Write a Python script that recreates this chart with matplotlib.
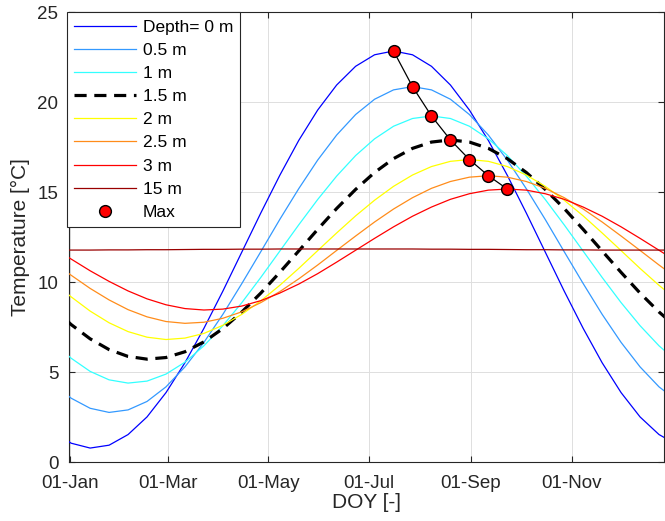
import matplotlib
import numpy as np

matplotlib.use("Agg")
import matplotlib.pyplot as plt

plt.rcParams["font.family"] = ["Liberation Sans", "DejaVu Sans"]

# day of year sampled every 11.5 days (first/last points lie just outside the axis)
doy = [-10, 1.5, 13, 24.5, 36, 47.5, 59, 70.5, 82, 93.5, 105, 116.5, 128, 139.5,
       151, 162.5, 174, 185.5, 197, 208.5, 220, 231.5, 243, 254.5, 266, 277.5,
       289, 300.5, 312, 323.5, 335, 346.5, 358, 369.5]

# soil temperature [degC] per depth
t_0m = [1.76, 1.06, 0.79, 0.95, 1.54, 2.52, 3.87, 5.53, 7.44, 9.51, 11.68, 13.85,
        15.94, 17.88, 19.57, 20.96, 22.00, 22.64, 22.85, 22.64, 22.00, 20.96, 19.57,
        17.88, 15.94, 13.85, 11.68, 9.51, 7.44, 5.53, 3.87, 2.52, 1.54, 0.95]
t_05m = [4.45, 3.56, 3.00, 2.77, 2.91, 3.38, 4.19, 5.30, 6.66, 8.22, 9.93, 11.70,
         13.49, 15.20, 16.79, 18.18, 19.32, 20.17, 20.69, 20.87, 20.69, 20.17, 19.32,
         18.18, 16.79, 15.20, 13.49, 11.70, 9.93, 8.22, 6.66, 5.30, 4.19, 3.38]
t_1m = [6.74, 5.78, 5.05, 4.58, 4.40, 4.51, 4.90, 5.56, 6.47, 7.59, 8.87, 10.27,
        11.73, 13.19, 14.60, 15.90, 17.04, 17.97, 18.67, 19.10, 19.24, 19.10, 18.67,
        17.97, 17.04, 15.90, 14.60, 13.19, 11.73, 10.27, 8.87, 7.59, 6.47, 5.56]
t_15m = [8.61, 7.65, 6.86, 6.26, 5.88, 5.73, 5.82, 6.14, 6.69, 7.43, 8.35, 9.40,
         10.55, 11.74, 12.94, 14.10, 15.16, 16.10, 16.87, 17.44, 17.79, 17.91, 17.79,
         17.44, 16.87, 16.10, 15.16, 14.10, 12.94, 11.74, 10.55, 9.40, 8.35, 7.43]
t_2m = [10.07, 9.19, 8.40, 7.75, 7.26, 6.95, 6.82, 6.90, 7.16, 7.61, 8.22, 8.97,
        9.83, 10.77, 11.76, 12.74, 13.69, 14.56, 15.33, 15.96, 16.43, 16.72, 16.82,
        16.72, 16.43, 15.96, 15.33, 14.56, 13.69, 12.74, 11.76, 10.77, 9.83, 8.97]
t_25m = [11.17, 10.39, 9.66, 9.02, 8.48, 8.08, 7.82, 7.72, 7.78, 8.00, 8.36, 8.87,
         9.48, 10.19, 10.96, 11.77, 12.57, 13.35, 14.07, 14.70, 15.22, 15.60, 15.84,
         15.92, 15.84, 15.60, 15.22, 14.70, 14.07, 13.35, 12.57, 11.77, 10.96, 10.19]
t_3m = [11.95, 11.29, 10.64, 10.05, 9.52, 9.08, 8.75, 8.54, 8.46, 8.51, 8.68, 8.98,
        9.40, 9.90, 10.48, 11.12, 11.78, 12.44, 13.08, 13.67, 14.18, 14.61, 14.92,
        15.12, 15.18, 15.12, 14.92, 14.61, 14.18, 13.67, 13.08, 12.44, 11.78, 11.12]
t_15m_deep = [11.79, 11.79, 11.79, 11.80, 11.80, 11.81, 11.81, 11.82, 11.83, 11.83,
              11.84, 11.84, 11.85, 11.85, 11.85, 11.85, 11.85, 11.85, 11.85, 11.85,
              11.84, 11.84, 11.83, 11.83, 11.82, 11.81, 11.81, 11.80, 11.80, 11.79,
              11.79, 11.79, 11.79, 11.79]

depth_labels = ["Depth= 0 m", "0.5 m", "1 m", "1.5 m", "2 m", "2.5 m", "3 m", "15 m"]
tick_doy = [1, 60, 121, 182, 244, 305]
tick_labels = ["01-Jan", "01-Mar", "01-May", "01-Jul", "01-Sep", "01-Nov"]

series = [t_0m, t_05m, t_1m, t_15m, t_2m, t_25m, t_3m, t_15m_deep]
colors = ["#0000ff", "#3399ff", "#33ffff", "black", "#ffff00", "#ff8c1a", "#ff0000", "#990000"]

fig = plt.figure(figsize=(6.65, 5.21), dpi=100)
ax = fig.add_axes([0.1033, 0.1127, 0.8959, 0.8637])

doy = np.array(doy)
for vals, col, lab in zip(series, colors, depth_labels):
    if lab == "1.5 m":
        ax.plot(doy, vals, color=col, lw=2.3, dashes=[3.8, 2.4], label=lab, zorder=3)
    else:
        ax.plot(doy, vals, color=col, lw=0.9, label=lab, zorder=3)

# annual maximum of the shallow profiles (0 - 3 m)
peak_idx = [int(np.argmax(v)) for v in series[:7]]
peak_doy = [doy[i] for i in peak_idx]
peak_temp = [series[j][i] for j, i in enumerate(peak_idx)]
ax.plot(peak_doy, peak_temp, "-", color="black", lw=0.9, zorder=4)
ax.plot(peak_doy, peak_temp, "o", ms=8.5, mfc="#ff0000", mec="black", mew=1.0,
        ls="none", label="Max", zorder=5)

ax.set_xlim(0, 361.3)
ax.set_ylim(0, 25)
ax.set_xticks(tick_doy)
ax.set_xticklabels(tick_labels)
ax.set_yticks([0, 5, 10, 15, 20, 25])
ax.grid(True, color="#dedede", lw=0.7)
ax.set_axisbelow(True)
ax.tick_params(direction="in", length=4, width=0.8, colors="#262626",
               labelsize=13.5, top=True, right=True)
ax.tick_params(axis="x", pad=9)
ax.tick_params(axis="y", pad=7.5)
for s in ax.spines.values():
    s.set_color("#262626")
    s.set_linewidth(0.8)

ax.set_xlabel("DOY [-]", fontsize=15, color="#262626", labelpad=1)
ax.set_ylabel("Temperature [\u00b0C]", fontsize=15, color="#262626", labelpad=5)

leg = ax.legend(loc="upper left", bbox_to_anchor=(66.7 / 665, 1 - 12.3 / 521),
                bbox_transform=fig.transFigure, borderaxespad=0, fontsize=12.5,
                handlelength=3.6, handletextpad=0.35, labelspacing=0.46,
                borderpad=0.42, fancybox=False, framealpha=1, edgecolor="#262626")
leg.get_frame().set_linewidth(0.8)
leg.set_zorder(10)

fig.savefig("out.png", dpi=100)
